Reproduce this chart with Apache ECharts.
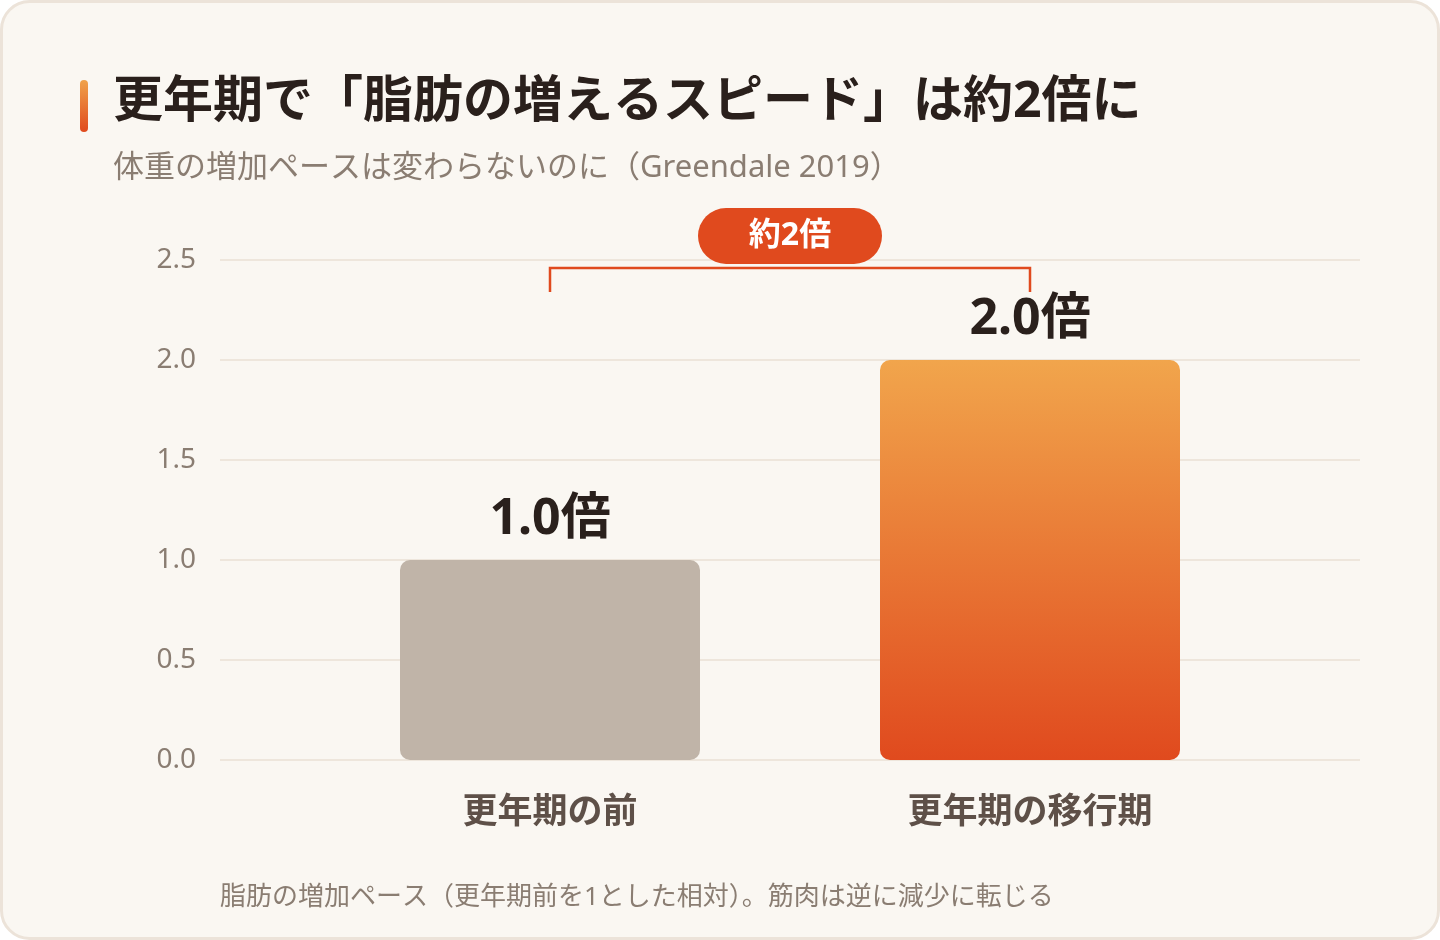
<!DOCTYPE html>
<html>
<head>
    <meta charset="utf-8">
    <title>更年期で脂肪の増えるスピード</title>
    <script src="https://cdn.jsdelivr.net/npm/echarts@6/dist/echarts.min.js"></script>
    <style>
        html, body { margin: 0; padding: 0; background: #ffffff; }
        #main { width: 1440px; height: 940px; }
    </style>
</head>
<body>
<div id="main"></div>
<script type="text/javascript">
    // データ
    var categories = ['更年期の前', '更年期の移行期'];
    var fatPace = [1.0, 2.0];
    var valueLabels = ['1.0倍', '2.0倍'];
    var badgeText = '約2倍';
    var bracketLevel = 2.46;   // 括弧の横線の高さ（値）
    var bracketFoot = 2.34;    // 括弧の脚の下端（値）
    var badgeLevel = 2.62;     // バッジ中心（値）

    var titleText = '更年期で「脂肪の増えるスピード」は約2倍に';
    var subText = '体重の増加ペースは変わらないのに（Greendale 2019）';
    var noteText = '脂肪の増加ペース（更年期前を1とした相対）。筋肉は逆に減少に転じる';

    var FONT = '"Noto Sans", "Noto Sans CJK JP", sans-serif';
    var ORANGE = '#e04a1e';

    var myChart = echarts.init(document.getElementById('main'));

    var option = {
        backgroundColor: 'transparent',
        textStyle: { fontFamily: FONT },
        graphic: [
            { // カード
                type: 'rect', z: -10,
                shape: { x: 1.5, y: 1.5, width: 1437, height: 937, r: 28 },
                style: { fill: '#faf7f2', stroke: '#ece3d9', lineWidth: 3 }
            },
            { // 見出しのアクセント
                type: 'rect',
                shape: { x: 80, y: 80, width: 8, height: 52, r: 4 },
                style: {
                    fill: new echarts.graphic.LinearGradient(0, 0, 0, 1, [
                        { offset: 0, color: '#f0a24a' },
                        { offset: 1, color: '#e04a1e' }
                    ])
                }
            },
            {
                type: 'text', left: 113, top: 78,
                style: { text: titleText, font: 'bold 50px ' + FONT, fill: '#2a201c' }
            },
            {
                type: 'text', left: 113, top: 153,
                style: { text: subText, font: '31px ' + FONT, fill: '#8a7d72' }
            },
            {
                type: 'text', left: 220, top: 885,
                style: { text: noteText, font: '26px ' + FONT, fill: '#8a7d72' }
            }
        ],
        // grid 0: 目盛りと補助線 / grid 1: 棒
        grid: [
            { left: 220, right: 80, top: 260, bottom: 180 },
            { left: 310, right: 170, top: 260, bottom: 180 }
        ],
        xAxis: [
            { type: 'category', gridIndex: 0, data: categories, show: false },
            {
                type: 'category',
                gridIndex: 1,
                data: categories,
                axisLine: { show: false },
                axisTick: { show: false },
                axisLabel: {
                    margin: 36,
                    fontSize: 35,
                    fontWeight: 'bold',
                    color: '#5e5048',
                    fontFamily: FONT
                }
            }
        ],
        yAxis: [
            {
                type: 'value',
                gridIndex: 0,
                min: 0,
                max: 2.5,
                interval: 0.5,
                axisLine: { show: false },
                axisTick: { show: false },
                splitLine: { lineStyle: { color: '#eee6dc', width: 2 } },
                axisLabel: {
                    margin: 24,
                    fontSize: 28,
                    color: '#8a7d72',
                    fontFamily: FONT,
                    formatter: function (v) { return v.toFixed(1); }
                }
            },
            {
                type: 'value',
                gridIndex: 1,
                min: 0,
                max: 2.5,
                interval: 0.5,
                show: false
            }
        ],
        series: [
            {
                type: 'bar',
                xAxisIndex: 1,
                yAxisIndex: 1,
                barWidth: 300,
                data: fatPace.map(function (v, i) {
                    return {
                        value: v,
                        itemStyle: {
                            borderRadius: 10,
                            color: i === 0 ? '#c0b4a8' : new echarts.graphic.LinearGradient(0, 0, 0, 1, [
                                { offset: 0, color: '#f1a54c' },
                                { offset: 1, color: '#e04a1e' }
                            ])
                        }
                    };
                }),
                label: {
                    show: true,
                    position: 'top',
                    distance: 15,
                    fontSize: 50,
                    fontWeight: 'bold',
                    color: '#2a201c',
                    fontFamily: FONT,
                    formatter: function (p) { return valueLabels[p.dataIndex]; }
                }
            },
            {
                // 括弧とバッジ
                type: 'custom',
                xAxisIndex: 1,
                yAxisIndex: 1,
                silent: true,
                z: 5,
                data: [[0, 1]],
                renderItem: function (params, api) {
                    var pL = api.coord([api.value(0), bracketLevel]);
                    var pR = api.coord([api.value(1), bracketLevel]);
                    var yFoot = api.coord([0, bracketFoot])[1];
                    var yBadge = api.coord([0, badgeLevel])[1];
                    var cx = (pL[0] + pR[0]) / 2;
                    return {
                        type: 'group',
                        children: [
                            {
                                type: 'polyline',
                                shape: { points: [[pL[0], yFoot], [pL[0], pL[1]], [pR[0], pR[1]], [pR[0], yFoot]] },
                                style: { stroke: ORANGE, lineWidth: 2.5, fill: null }
                            },
                            {
                                type: 'rect',
                                shape: { x: cx - 92, y: yBadge - 28, width: 184, height: 56, r: 28 },
                                style: { fill: ORANGE }
                            },
                            {
                                type: 'text',
                                x: cx, y: yBadge,
                                style: {
                                    text: badgeText,
                                    font: 'bold 32px ' + FONT,
                                    fill: '#ffffff',
                                    align: 'center',
                                    verticalAlign: 'middle'
                                }
                            }
                        ]
                    };
                }
            }
        ]
    };

    myChart.setOption(option);
</script>
</body>
</html>
